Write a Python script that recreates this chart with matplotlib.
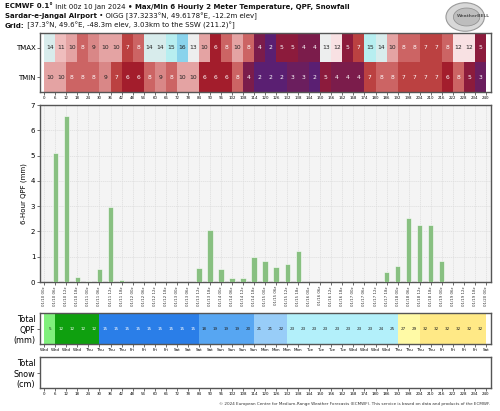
import numpy as np
import pandas as pd
import matplotlib
matplotlib.use("Agg")
import matplotlib.pyplot as plt
from matplotlib.colors import LinearSegmentedColormap, ListedColormap, BoundaryNorm
from matplotlib.patches import Ellipse

# ---- data ----
fhours = np.arange(0, 241, 6)            # forecast hour ticks
step_end = np.arange(6, 241, 6)          # end hour of each 6-h period

tmax = [14, 11, 10, 8, 9, 10, 10, 7, 8, 14, 14, 15, 16, 13, 10, 6, 8, 10, 8, 4,
        2, 5, 5, 4, 4, 13, 12, 5, 7, 15, 14, 10, 8, 8, 7, 7, 8, 12, 12, 5]
tmin = [10, 10, 8, 8, 8, 9, 7, 6, 6, 8, 9, 8, 10, 10, 6, 6, 6, 8, 4, 2,
        2, 2, 3, 3, 2, 5, 4, 4, 4, 7, 8, 8, 7, 7, 7, 7, 6, 8, 5, 3]

qpf = [5.1, 6.57, 0.2, 0.04, 0.53, 2.96, 0.09, 0, 0, 0, 0, 0, 0, 0.57, 2.05,
       0.51, 0.15, 0.16, 1.0, 0.84, 0.61, 0.71, 1.22, 0.01, 0, 0, 0, 0, 0, 0,
       0.38, 0.65, 2.55, 2.24, 2.25, 0.85, 0.01, 0, 0, 0]

total_qpf = [5, 12, 12, 12, 12, 15, 15, 15, 15, 15, 15, 15, 15, 15, 18, 19, 19,
             19, 20, 21, 21, 22, 23, 23, 23, 23, 23, 23, 23, 23, 24, 25, 27, 29,
             32, 32, 32, 32, 32, 32]

init = pd.Timestamp("2024-01-10 00:00")
valid = [init + pd.Timedelta(hours=int(h)) for h in fhours]
date_labels = [v.strftime("%m/%d %Hz") for v in valid]
day_labels = [v.strftime("%a") for v in valid]

# ---- colours ----
temp_anchor = [(2, "#5a1f72"), (3, "#6b1e5e"), (4, "#7b1c4b"), (5, "#8d1b3b"),
               (6, "#a31d2c"), (7, "#bb4141"), (8, "#cc6565"), (9, "#d98686"),
               (10, "#e4a3a3"), (11, "#efbdbd"), (12, "#f8e1e3"), (13, "#eeeeee"),
               (14, "#d9ecec"), (15, "#b8eef0"), (16, "#8ad3ec")]
tlo, thi = 2, 16
temp_cmap = LinearSegmentedColormap.from_list(
    "t", [((v - tlo) / (thi - tlo), c) for v, c in temp_anchor])

qpf_bounds = [0, 10, 15, 17.5, 20.5, 22.5, 26, 30, 40]
qpf_colors = ["#80f07c", "#0fa00f", "#2a7ee8", "#57a6f2", "#98cdf8",
              "#b3f0fa", "#fffaa6", "#ffe986"]
qpf_cmap = ListedColormap(qpf_colors)
qpf_norm = BoundaryNorm(qpf_bounds, qpf_cmap.N)

frame = "#555555"
W, H = 500, 411
fig = plt.figure(figsize=(W / 100, H / 100), dpi=100)


def axbox(top, bottom, left=39.5, right=490.7):
    return [left / W, 1 - bottom / H, (right - left) / W, (bottom - top) / H]


def style(ax):
    for s in ax.spines.values():
        s.set_color(frame)
        s.set_linewidth(1.0)
    ax.tick_params(length=2, width=0.5, color="#333333", pad=1)


xlim = (-2.6, 242.6)
edges = np.arange(0, 241, 6)

# ---- temperature strip ----
ax1 = fig.add_axes(axbox(32.7, 92))
grid = np.array([tmin, tmax], dtype=float)
ax1.pcolormesh(edges, [0, 1, 2], grid, cmap=temp_cmap, vmin=tlo, vmax=thi)
for r, row in enumerate([tmin, tmax]):
    for i, v in enumerate(row):
        c = temp_cmap((v - tlo) / (thi - tlo))
        lum = 0.299 * c[0] + 0.587 * c[1] + 0.114 * c[2]
        ax1.text(edges[i] + 3, r + 0.5, str(v), ha="center", va="center",
                 fontsize=4.3, color="white" if lum < 0.55 else "#222222")
ax1.set_xlim(*xlim)
ax1.set_ylim(0, 2)
ax1.set_yticks([0.5, 1.5])
ax1.set_yticklabels(["TMIN", "TMAX"], fontsize=5)
ax1.set_xticks(fhours)
ax1.set_xticklabels([str(h) for h in fhours], fontsize=2.8)
style(ax1)

# ---- 6-hour QPF bars ----
ax2 = fig.add_axes(axbox(105, 282))
ax2.set_facecolor("#f4f4f4")
ax2.bar(step_end, qpf, width=2.9, color="#88c081", edgecolor="white",
        linewidth=0.4, zorder=3)
ax2.set_xlim(*xlim)
ax2.set_ylim(0, 7)
ax2.set_yticks(range(0, 8))
ax2.set_yticklabels([str(v) for v in range(0, 8)], fontsize=5)
ax2.set_xticks(fhours)
ax2.set_xticklabels(date_labels, rotation=90, fontsize=2.8, color="#333333")
ax2.grid(True, color="#dddddd", linestyle=(0, (2, 1)), linewidth=0.5, zorder=0)
ax2.set_ylabel("6-Hour QPF (mm)", fontsize=5, labelpad=3)
style(ax2)

# ---- total QPF strip ----
ax3 = fig.add_axes(axbox(312.7, 344.3))
ax3.pcolormesh(edges, [0, 1], np.array([total_qpf], dtype=float),
               cmap=qpf_cmap, norm=qpf_norm)
for i, v in enumerate(total_qpf):
    dark = qpf_norm(v) in (1, 2)
    ax3.text(edges[i] + 3, 0.5, str(v), ha="center", va="center",
             fontsize=3.0, color="white" if dark else "#222222")
ax3.set_xlim(*xlim)
ax3.set_ylim(0, 1)
ax3.set_yticks([0.5])
ax3.set_yticklabels(["Total\nQPF\n(mm)"], fontsize=5.8)
ax3.set_xticks(fhours)
ax3.set_xticklabels(day_labels, fontsize=3.0)
style(ax3)

# ---- total snow strip (empty) ----
ax4 = fig.add_axes(axbox(356.7, 388.3))
ax4.set_xlim(*xlim)
ax4.set_ylim(0, 1)
ax4.set_yticks([0.5])
ax4.set_yticklabels(["Total\nSnow\n(cm)"], fontsize=5.8)
ax4.set_xticks(fhours)
ax4.set_xticklabels([str(h) for h in fhours], fontsize=2.8)
style(ax4)

# ---- header with mixed weights ----
renderer = fig.canvas.get_renderer()


def header_line(y_px, parts, fs=5.0):
    x = 5 / W
    for s, w in parts:
        t = fig.text(x, 1 - y_px / H, s, fontsize=fs, fontweight=w,
                     va="center", ha="left", color="#111111")
        bb = t.get_window_extent(renderer)
        x = bb.x1 / fig.bbox.width


header_line(6.5, [("ECMWF 0.1°", "bold"), (" Init 00z 10 Jan 2024 ", "normal"),
                  ("• Max/Min 6 Hourly 2 Meter Temperature, QPF, Snowfall", "bold")])
header_line(16, [("Sardar-e-Jangal Airport", "bold"),
                 (" • OIGG [37.3233°N, 49.6178°E, -12.2m elev]", "normal")])
header_line(25.5, [("Grid:", "bold"),
                   (" [37.3°N, 49.6°E, -48.3m elev, 3.03km to the SSW (211.2)°]", "normal")])

# ---- logo ----
axl = fig.add_axes([445 / W, 1 - 32 / H, 48 / W, 30 / H])
axl.set_xlim(0, 1)
axl.set_ylim(0, 1)
axl.axis("off")
axl.add_patch(Ellipse((0.42, 0.5), 0.8, 0.95, fc="#d8d8d8", ec="#9a9a9a", lw=0.8))
axl.add_patch(Ellipse((0.45, 0.5), 0.55, 0.6, fc="#bdbdbd", ec="#8a8a8a", lw=0.5))
axl.text(0.6, 0.52, "WeatherBELL", fontsize=3.2, ha="center", va="center",
         color="#555555", fontweight="bold")

fig.text(490 / W, 1 - 404 / H,
         "© 2024 European Centre for Medium-Range Weather Forecasts (ECMWF). "
         "This service is based on data and products of the ECMWF.",
         fontsize=3.0, ha="right", va="center", color="#333333")

fig.savefig("out.png", dpi=100)
